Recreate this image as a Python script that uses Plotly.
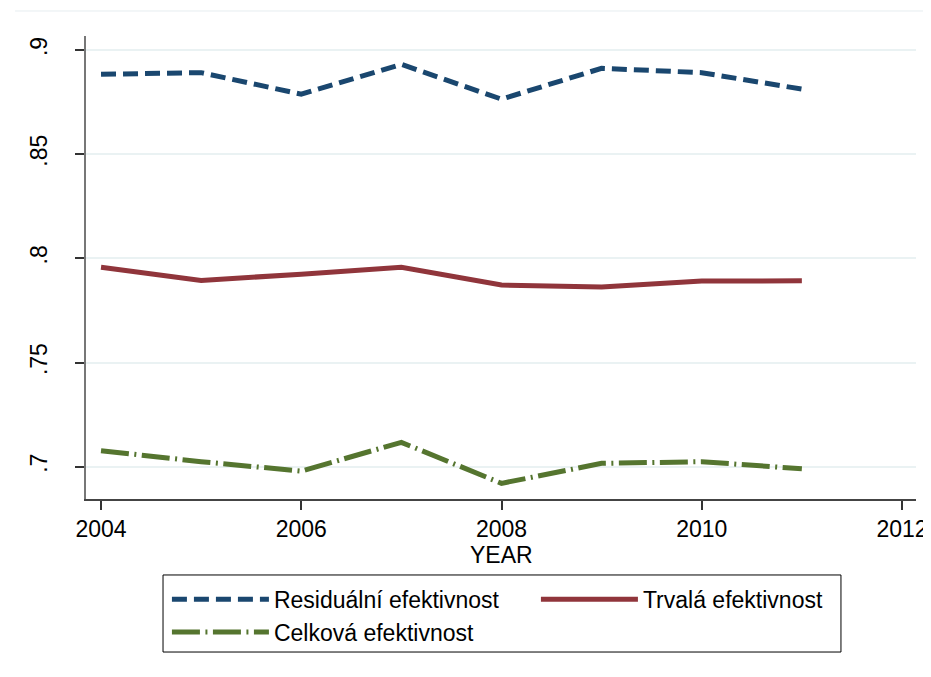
import plotly.graph_objects as go

years = [2004, 2005, 2006, 2007, 2008, 2009, 2010, 2011]

# efficiency series
residualni = [0.8883, 0.8891, 0.8788, 0.8931, 0.8764, 0.8912, 0.8891, 0.8812]
trvala = [0.7957, 0.7894, 0.7924, 0.7957, 0.7872, 0.7862, 0.7891, 0.7892]
celkova = [0.7077, 0.7024, 0.6979, 0.7117, 0.6920, 0.7016, 0.7024, 0.6990]

names = ['Residuální efektivnost', 'Trvalá efektivnost', 'Celková efektivnost']

y_ticks = [0.7, 0.75, 0.8, 0.85, 0.9]
y_ticktext = ['.7', '.75', '.8', '.85', '.9']
x_ticks = [2004, 2006, 2008, 2010, 2012]

FONT = 'Liberation Sans, Arial, sans-serif'
FS = 23

fig = go.Figure()
fig.add_trace(go.Scatter(
    x=years, y=residualni, name=names[0], mode='lines',
    line=dict(color='#1a476f', width=5, dash='15px,7px'),
))
fig.add_trace(go.Scatter(
    x=years, y=trvala, name=names[1], mode='lines',
    line=dict(color='#90353b', width=5),
))
fig.add_trace(go.Scatter(
    x=years, y=celkova, name=names[2], mode='lines',
    line=dict(color='#55752f', width=5, dash='28px,5.5px,2px,5.5px'),
))

# page body adds 8px, so the figure is 8px smaller than the window
fig.update_layout(
    width=923,
    height=669,
    margin=dict(l=78, r=15, t=28, b=178, autoexpand=False),
    paper_bgcolor='white',
    plot_bgcolor='white',
    font=dict(family=FONT, size=FS, color='black'),
    showlegend=True,
    legend=dict(
        orientation='h',
        x=0.0975, y=-0.17,
        xanchor='left', yanchor='top',
        borderwidth=0,
        bgcolor='rgba(0,0,0,0)',
        entrywidth=257, entrywidthmode='pixels',
        itemwidth=97,
        font=dict(family=FONT, size=FS),
        traceorder='normal',
    ),
    shapes=[
        # faint frame line at the top of the graph region
        dict(type='line', xref='paper', yref='paper',
             x0=-0.0855, x1=1.02, y0=1.054, y1=1.054,
             line=dict(color='#e6edf0', width=1)),
        # legend box
        dict(type='rect', xref='paper', yref='paper',
             x0=0.0928, x1=0.9096, y0=-0.1641, y1=-0.3305,
             line=dict(color='black', width=1), fillcolor='rgba(0,0,0,0)'),
    ],
    annotations=[dict(
        text='YEAR', xref='paper', yref='paper',
        x=0.5, y=-0.121, xanchor='center', yanchor='middle',
        showarrow=False, font=dict(size=FS),
    )],
)

fig.update_xaxes(
    range=[2003.85, 2012.14],
    tickvals=x_ticks,
    showgrid=False, zeroline=False, automargin=False,
    showline=True, linecolor='#444444', linewidth=1.5,
    ticks='outside', ticklen=9, tickcolor='#333333', tickwidth=1.5,
    tickfont=dict(size=FS),
)
fig.update_yaxes(
    range=[0.6845, 0.9067],
    tickvals=y_ticks, ticktext=y_ticktext,
    tickangle=-90,
    showgrid=True, gridcolor='#eaf2f3', gridwidth=2,
    zeroline=False, automargin=False,
    showline=True, linecolor='#777777', linewidth=1.5,
    ticks='outside', ticklen=9, tickcolor='#333333', tickwidth=1.5,
    tickfont=dict(size=FS),
    ticklabelstandoff=19,
)

fig.write_html('out.html')
